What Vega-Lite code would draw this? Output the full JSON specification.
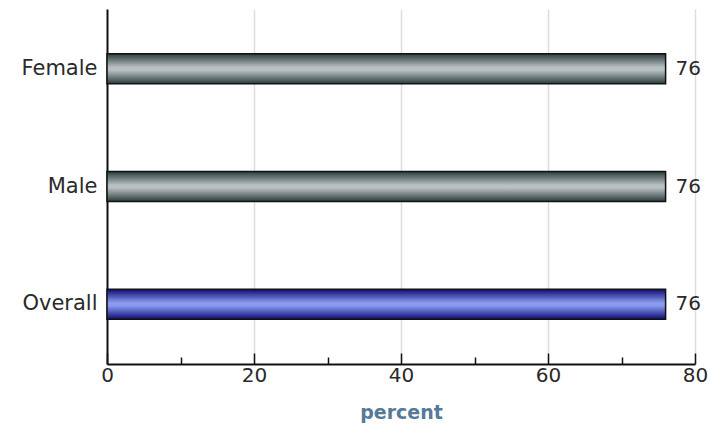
{
  "$schema": "https://vega.github.io/schema/vega-lite/v6.json",
  "width": 709,
  "height": 429,
  "autosize": {"type": "fit", "contains": "padding"},
  "padding": {"left": 21, "right": 1, "top": 9, "bottom": 7},
  "background": "white",
  "config": {"view": {"stroke": null}, "font": "DejaVu Sans"},
  "data": {"values": [
    {"group": "Female", "percent": 76, "kind": "sub"},
    {"group": "Male", "percent": 76, "kind": "sub"},
    {"group": "Overall", "percent": 76, "kind": "overall"}
  ]},
  "encoding": {
    "y": {"field": "group", "type": "nominal", "sort": ["Female", "Male", "Overall"],
      "scale": {"paddingInner": 0.745, "paddingOuter": 0.38},
      "axis": {"title": null, "ticks": false, "labelFont": "DejaVu Sans", "labelFontSize": 21, "labelColor": "#2a2a2a", "labelPadding": 10, "domainColor": "#111111", "domainWidth": 2, "grid": false}},
    "x": {"field": "percent", "type": "quantitative",
      "scale": {"domain": [0, 80], "nice": false},
      "axis": {"title": "percent", "values": [0, 10, 20, 30, 40, 50, 60, 70, 80],
        "labelExpr": "datum.value % 20 === 0 ? datum.label : ''",
        "tickSize": {"condition": {"test": "datum.value % 20 === 0", "value": -11}, "value": -7},
        "gridOpacity": {"condition": {"test": "datum.value % 20 === 0 && datum.value > 0", "value": 1}, "value": 0},
        "grid": true, "gridColor": "#dddddd", "gridWidth": 1.5,
        "tickColor": "#111111", "tickWidth": 1.5, "domainColor": "#111111", "domainWidth": 2,
        "labelFont": "DejaVu Sans", "labelFontSize": 20, "labelColor": "#2a2a2a", "labelPadding": 12, "labelFlush": false,
        "titleFont": "DejaVu Sans", "titleFontSize": 19, "titleFontWeight": "bold", "titleColor": "#56799a", "titlePadding": 18}}
  },
  "layer": [
    {"transform": [{"filter": "datum.kind === 'sub'"}],
     "mark": {"type": "bar", "stroke": "#111111", "strokeWidth": 1.5,
       "color": {"gradient": "linear", "x1": 0, "y1": 0, "x2": 0, "y2": 1,
         "stops": [{"offset": 0, "color": "#2a3c3e"}, {"offset": 0.45, "color": "#b8c0c0"}, {"offset": 0.55, "color": "#b8c0c0"}, {"offset": 1, "color": "#2a3c3e"}]}}},
    {"transform": [{"filter": "datum.kind === 'overall'"}],
     "mark": {"type": "bar", "stroke": "#111111", "strokeWidth": 1.5,
       "color": {"gradient": "linear", "x1": 0, "y1": 0, "x2": 0, "y2": 1,
         "stops": [{"offset": 0, "color": "#0c0c70"}, {"offset": 0.45, "color": "#8a9af0"}, {"offset": 0.55, "color": "#8a9af0"}, {"offset": 1, "color": "#0c0c70"}]}}},
    {"mark": {"type": "text", "align": "left", "dx": 10, "font": "DejaVu Sans", "fontSize": 20, "color": "#2a2a2a"},
     "encoding": {"text": {"field": "percent", "type": "quantitative"}}}
  ]
}
